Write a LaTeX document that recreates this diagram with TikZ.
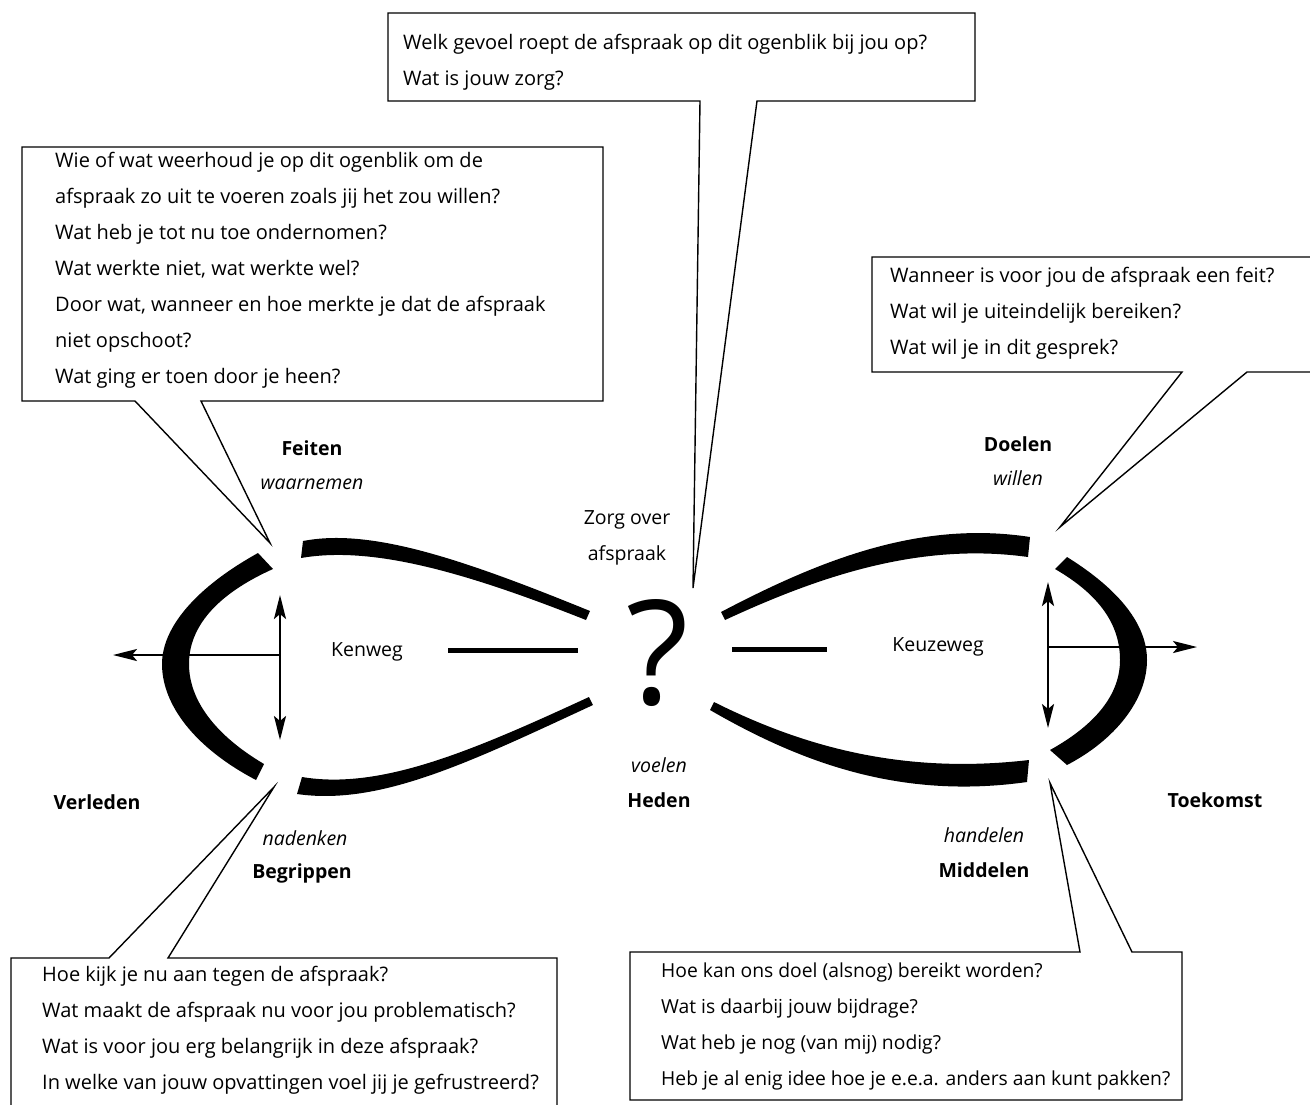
\documentclass[tikz,border=0pt]{standalone}
\usepackage{fontspec}
\setmainfont{Open Sans}
\usetikzlibrary{arrows.meta}

\begin{document}
\begin{tikzpicture}
        [x=1pt, y=-1pt,
        box/.style={draw=black, line width=1.4pt, line join=miter},
        vraag/.style={anchor=west, align=left, inner sep=0pt, font=\fontsize{20}{36}\selectfont},
        txt/.style={inner sep=0pt, font=\fontsize{19.5}{22}\selectfont},
        lab/.style={txt, font=\fontsize{19.5}{22}\selectfont\bfseries},
        verb/.style={txt, font=\fontsize{19.5}{22}\selectfont\itshape},
        arr/.style={-{Stealth[length=24pt, width=12pt, inset=5pt]}, line width=2.4pt},
        darr/.style={{Stealth[length=24pt, width=12pt, inset=5pt]}-{Stealth[length=24pt, width=12pt, inset=5pt]}, line width=2.4pt},
        streep/.style={line width=5pt}]
        \useasboundingbox (0, 0) rectangle (1310, 1104);
        \clip (0, 0) rectangle (1310, 1104);
        \coordinate (zorgtip) at (693, 588);
        \coordinate (feitentip) at (270, 543);
        \coordinate (doelentip) at (1060, 527);
        \coordinate (begriptip) at (274, 787);
        \coordinate (middeltip) at (1050, 783);
        \draw[box] (zorgtip) -- (700, 101) -- (388, 101) -- (388, 13) -- (975, 13) -- (975, 101) -- (757, 101) -- cycle;
        \draw[box] (feitentip) -- (135, 401) -- (22, 401) -- (22, 147) -- (603, 147) -- (603, 401) -- (201, 401) -- cycle;
        \draw[box] (doelentip) -- (1182, 372) -- (872, 372) -- (872, 257) -- (1330, 257) -- (1330, 372) -- (1247, 372) -- cycle;
        \draw[box] (begriptip) -- (109, 958) -- (11, 958) -- (11, 1120) -- (557, 1120) -- (557, 958) -- (168, 958) -- cycle;
        \draw[box] (middeltip) -- (1080, 952) -- (630, 952) -- (630, 1100) -- (1182, 1100) -- (1182, 952) -- (1132, 952) -- cycle;
        \node (zorgvraag) at (403, 62) [vraag] {Welk gevoel roept de afspraak op dit ogenblik bij jou op?\\Wat is jouw zorg?};
        \node (feitvraag) at (55, 270) [vraag] {Wie of wat weerhoud je op dit ogenblik om de\\afspraak zo uit te voeren zoals jij het zou willen?\\Wat heb je tot nu toe ondernomen?\\Wat werkte niet, wat werkte wel?\\Door wat, wanneer en hoe merkte je dat de afspraak\\niet opschoot?\\Wat ging er toen door je heen?};
        \node (doelvraag) at (890, 313) [vraag] {Wanneer is voor jou de afspraak een feit?\\Wat wil je uiteindelijk bereiken?\\Wat wil je in dit gesprek?};
        \node (begripvraag) at (42, 1030) [vraag] {Hoe kijk je nu aan tegen de afspraak?\\Wat maakt de afspraak nu voor jou problematisch?\\Wat is voor jou erg belangrijk in deze afspraak?\\In welke van jouw opvattingen voel jij je gefrustreerd?};
        \node (middelvraag) at (661, 1026) [vraag, font=\fontsize{19.3}{36}\selectfont] {Hoe kan ons doel (alsnog) bereikt worden?\\Wat is daarbij jouw bijdrage?\\Wat heb je nog (van mij) nodig?\\Heb je al enig idee hoe je e.e.a. anders aan kunt pakken?};
        \node (feiten) at (312, 448) [lab] {Feiten};
        \node (waarnemen) at (312, 484) [verb] {waarnemen};
        \node (zorg) at (627, 520) [txt] {Zorg over};
        \node (afspraak) at (627, 555) [txt] {afspraak};
        \node (doelen) at (1018, 444) [lab] {Doelen};
        \node (willen) at (1018, 478) [verb] {willen};
        \node (kenweg) at (367, 652) [txt] {Kenweg};
        \node (keuzeweg) at (938, 647) [txt] {Keuzeweg};
        \node (vraagteken) at (658, 653) [inner sep=0pt, font=\fontsize{145}{145}\selectfont] {?};
        \node (verleden) at (97, 802) [lab] {Verleden};
        \node (voelen) at (659, 765) [verb] {voelen};
        \node (heden) at (659, 800) [lab] {Heden};
        \node (toekomst) at (1215, 800) [lab] {Toekomst};
        \node (nadenken) at (305, 838) [verb] {nadenken};
        \node (begrippen) at (302, 873) [lab] {Begrippen};
        \node (handelen) at (984, 835) [verb] {handelen};
        \node (middelen) at (984, 870) [lab] {Middelen};
        \fill (258, 553) .. controls (195, 588) and (162, 628) .. (162, 664)
          .. controls (162, 705) and (195, 748) .. (256, 780) -- (264, 764)
          .. controls (215, 735) and (189, 700) .. (189, 664)
          .. controls (189, 628) and (215, 595) .. (273, 569) -- cycle;
        \fill (303, 541) .. controls (370, 528) and (460, 558) .. (590, 611) -- (586, 620)
          .. controls (460, 570) and (370, 546) .. (301, 558) -- cycle;
        \fill (302, 777) .. controls (380, 790) and (470, 752) .. (589, 697) -- (593, 705)
          .. controls (470, 762) and (380, 806) .. (297, 794) -- cycle;
        \fill (721, 612) .. controls (820, 560) and (920, 520) .. (1030, 537) -- (1028, 557)
          .. controls (920, 542) and (820, 576) .. (725, 620) -- cycle;
        \fill (714, 702) .. controls (800, 745) and (900, 775) .. (1029, 760) -- (1027, 782)
          .. controls (900, 800) and (800, 762) .. (710, 710) -- cycle;
        \fill (1067, 557) .. controls (1120, 590) and (1147, 625) .. (1147, 660)
          .. controls (1147, 700) and (1115, 740) .. (1067, 765) -- (1050, 750)
          .. controls (1095, 725) and (1120, 695) .. (1120, 660)
          .. controls (1120, 625) and (1100, 595) .. (1055, 569) -- cycle;
        \draw[streep] (448, 650) -- (578, 650);
        \draw[streep] (732, 649) -- (827, 649);
        \coordinate (lmid) at (280, 655);
        \coordinate (lpijl) at (113, 655);
        \coordinate (ltop) at (280, 595);
        \coordinate (lbodem) at (280, 740);
        \coordinate (rmid) at (1048, 647);
        \coordinate (rpijl) at (1197, 647);
        \coordinate (rtop) at (1048, 582);
        \coordinate (rbodem) at (1048, 728);
        \draw[arr] (lmid) -- (lpijl);
        \draw[darr] (ltop) -- (lbodem);
        \draw[arr] (rmid) -- (rpijl);
        \draw[darr] (rtop) -- (rbodem);
\end{tikzpicture}
\end{document}
